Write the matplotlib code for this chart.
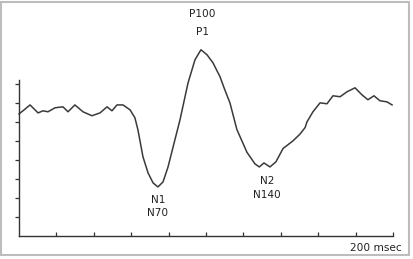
import matplotlib
matplotlib.use('Agg')
import matplotlib.pyplot as plt
from matplotlib.patches import Rectangle

# Waveform (time in msec, amplitude in tick units)
time_ms = [0, 2.1, 5.9, 10.2, 12.8, 15.5, 19.3, 23.5, 26.2, 29.9, 34.2, 39.0,
           43.3, 47.1, 49.7, 52.4, 55.6, 59.4, 62.0, 63.6, 66.3, 69.0, 71.7,
           74.3, 77.0, 79.7, 82.4, 86.1, 90.4, 94.1, 97.3, 100.5, 103.7,
           107.5, 110.0, 112.8, 116.5, 121.9, 126.2, 128.5, 131.0, 134.2,
           137.4, 141.2, 146.5, 150.2, 153.0, 154.0, 157.2, 161.0, 164.7,
           167.9, 171.7, 175.4, 179.7, 183.4, 186.6, 189.8, 193.0, 196.8, 199.5]
amplitude = [6.42, 6.58, 6.89, 6.47, 6.58, 6.53, 6.74, 6.79, 6.53, 6.89, 6.53,
             6.32, 6.47, 6.79, 6.58, 6.89, 6.89, 6.63, 6.21, 5.58, 4.16, 3.32,
             2.79, 2.58, 2.84, 3.63, 4.68, 6.11, 8.05, 9.26, 9.79, 9.53, 9.11,
             8.37, 7.70, 7.00, 5.60, 4.40, 3.79, 3.63, 3.84, 3.63, 3.90, 4.60,
             5.00, 5.35, 5.70, 6.00, 6.53, 7.00, 6.95, 7.37, 7.32, 7.58, 7.79,
             7.42, 7.16, 7.37, 7.11, 7.05, 6.89]

x_ticks = [20, 40, 60, 80, 100, 120, 140, 160, 180, 200]
y_ticks = [1, 2, 3, 4, 5, 6, 7, 8]

# Peak labels: (text, x, y)
peak_labels = [('P100', 97.9, 11.68), ('P1', 97.9, 10.74),
               ('N1', 74.3, 1.89), ('N70', 74.3, 1.21),
               ('N2', 132.6, 2.89), ('N140', 132.6, 2.16)]

fig = plt.figure(figsize=(4.13, 2.59), dpi=100)
fig.patches.append(Rectangle((0.002, 0.016), 0.988, 0.976, transform=fig.transFigure,
                             fill=False, edgecolor='#bdbdbd', linewidth=1.5))

ax = fig.add_axes([19/413, 23/259, 374/413, 156/259])
ax.plot(time_ms, amplitude, color='#3a3a3a', linewidth=1.1, clip_on=False)

ax.set_xlim(0, 200)
ax.set_ylim(0, 8.2)
for side in ['top', 'right']:
    ax.spines[side].set_visible(False)
for side in ['left', 'bottom']:
    ax.spines[side].set_color('#333333')
    ax.spines[side].set_linewidth(1.0)

ax.set_xticks(x_ticks)
ax.set_yticks(y_ticks)
ax.tick_params(axis='x', direction='in', length=3, width=0.9, color='#333333', labelbottom=False)
ax.tick_params(axis='y', direction='out', length=3, width=0.9, color='#333333', labelleft=False)

for label, x, y in peak_labels:
    ax.text(x, y, label, ha='center', va='center', fontsize=7.6, color='#222222', clip_on=False)
ax.text(204.8, -0.63, '200 msec', ha='right', va='center', fontsize=7.6, color='#222222', clip_on=False)

fig.savefig('out.png', dpi=100)
